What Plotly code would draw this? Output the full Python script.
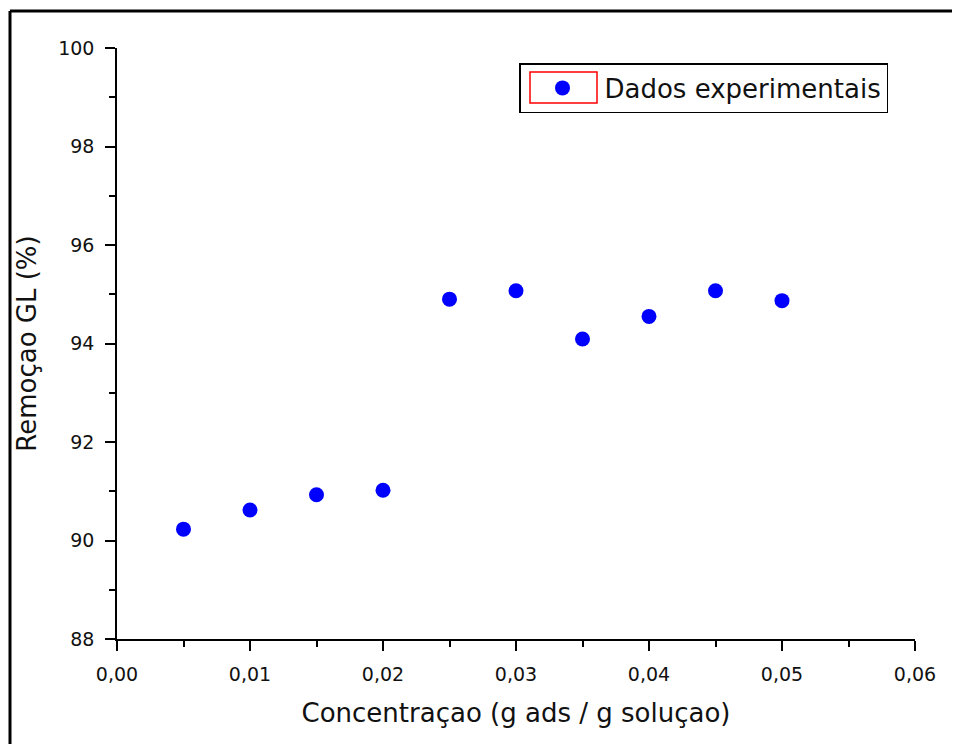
import plotly.graph_objects as go

# Data
conc = [0.005, 0.010, 0.015, 0.020, 0.025, 0.030, 0.035, 0.040, 0.045, 0.050]
remocao = [90.23, 90.62, 90.93, 91.02, 94.90, 95.07, 94.09, 94.55, 95.07, 94.87]
series_name = "Dados experimentais"
x_title = "Concentraçao (g ads / g soluçao)"
y_title = "Remoçao GL (%)"

# page body has an 8px margin; lay out in screen pixels and compensate
OFF = 8
W, H = 960 - OFF, 744 - OFF
L, R, T, B = 117 - OFF, 45, 48 - OFF, 105
pw, ph = W - L - R, H - T - B

def px(xs):
    return (xs - OFF - L) / pw

def py(ys):
    return 1 - (ys - OFF - T) / ph

FONT = "DejaVu Sans"
TXT = "#111"

fig = go.Figure()
fig.add_trace(go.Scatter(
    x=conc, y=remocao, mode="markers", name=series_name,
    marker=dict(color="rgb(0,0,255)", size=15, line=dict(width=0)),
))

axis_common = dict(
    showline=True, linecolor="black", linewidth=1.5,
    ticks="outside", ticklen=10, tickwidth=1.5, tickcolor="black",
    showgrid=False, zeroline=False, mirror=False,
    tickfont=dict(family=FONT, size=19, color=TXT),
)

fig.update_xaxes(
    range=[0, 0.06], dtick=0.01, tick0=0, tickformat=".2f",
    ticklabelstandoff=7,
    minor=dict(dtick=0.005, ticks="outside", ticklen=6, tickwidth=1.5, tickcolor="black"),
    title=dict(text=x_title, font=dict(family=FONT, size=26, color=TXT), standoff=20),
    **axis_common,
)
fig.update_yaxes(
    range=[88, 100], dtick=2, tick0=88,
    ticklabelstandoff=7,
    minor=dict(dtick=1, ticks="outside", ticklen=6, tickwidth=1.5, tickcolor="black"),
    title=dict(text=y_title, font=dict(family=FONT, size=26, color=TXT), standoff=14),
    **axis_common,
)

shapes = [
    # outer frame (top and left)
    dict(type="line", xref="paper", yref="paper", x0=px(10), x1=px(960), y0=py(11), y1=py(11),
         line=dict(color="black", width=3)),
    dict(type="line", xref="paper", yref="paper", x0=px(10), x1=px(10), y0=py(11), y1=py(744),
         line=dict(color="black", width=3)),
    # red box around legend symbol
    dict(type="rect", xref="paper", yref="paper", x0=px(530), x1=px(597), y0=py(72), y1=py(103),
         line=dict(color="red", width=1.5), layer="above"),
]

fig.update_layout(
    width=W, height=H,
    margin=dict(l=L, r=R, t=T, b=B),
    paper_bgcolor="white", plot_bgcolor="white",
    separators=",.",
    showlegend=True,
    legend=dict(
        x=px(519), y=py(63), xanchor="left", yanchor="top",
        bordercolor="black", borderwidth=1.5, bgcolor="rgba(255,255,255,0)",
        font=dict(family=FONT, size=26, color=TXT),
        itemwidth=74, tracegroupgap=0,
    ),
    shapes=shapes,
)

fig.write_html("out.html")
